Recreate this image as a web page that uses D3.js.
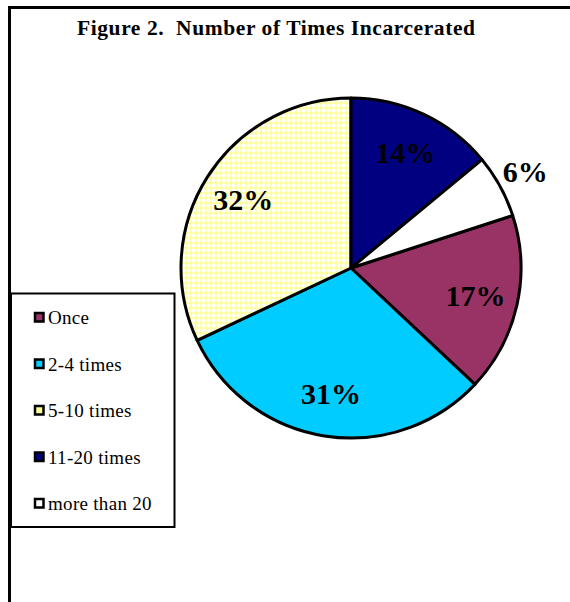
<!DOCTYPE html>
<html>
<head>
<meta charset="utf-8">
<script src="https://cdn.jsdelivr.net/npm/d3@7"></script>
<style>
  html, body { margin: 0; padding: 0; background: #fff; }
  svg { display: block; }
  text { white-space: pre; }
</style>
</head>
<body>
<svg id="chart" width="570" height="602"></svg>
<script>
const categories = ["Once", "2-4 times", "5-10 times", "11-20 times", "more than 20"];
const values = [17, 31, 32, 14, 6];
const labels = ["17%", "31%", "32%", "14%", "6%"];
const colors = ["#993366", "#00CCFF", "url(#yellowDots)", "#000080", "#FFFFFF"];
const legendColors = ["#993366", "#00CCFF", "#FFFF99", "#000080", "#FFFFFF"];

const svg = d3.select("#chart");
const defs = svg.append("defs");
const pat = defs.append("pattern").attr("id", "yellowDots")
  .attr("patternUnits", "userSpaceOnUse").attr("width", 5).attr("height", 5);
pat.append("rect").attr("width", 5).attr("height", 5).attr("fill", "#FFFF99");
pat.append("circle").attr("cx", 2.5).attr("cy", 2.5).attr("r", 2).attr("fill", "#FFFFFF");

// frame
svg.append("path").attr("d", "M9.5,602 L9.5,7.5 L570,7.5")
  .attr("fill", "none").attr("stroke", "#000").attr("stroke-width", 3);

// title
svg.append("text").attr("x", 77).attr("y", 35)
  .attr("font-family", "Liberation Serif, Times New Roman, serif")
  .attr("font-weight", "bold").attr("font-size", 21.5)
  .attr("textLength", 398).attr("lengthAdjust", "spacing")
  .text("Figure 2.  Number of Times Incarcerated");

// pie
const cx = 351, cy = 268, r = 170;
const total = d3.sum(values);
const start = (values[3] + values[4]) / total * 2 * Math.PI;
const pie = d3.pie().sort(null).startAngle(start).endAngle(start + 2 * Math.PI);
const arcs = pie(values);
const arc = d3.arc().innerRadius(0).outerRadius(r);
const g = svg.append("g").attr("transform", `translate(${cx},${cy})`);
g.selectAll("path.slice").data(arcs).enter().append("path")
  .attr("class", "slice")
  .attr("d", arc)
  .attr("fill", (d, i) => colors[i])
  .attr("stroke", "#000").attr("stroke-width", 3).attr("stroke-linejoin", "round");

const inArc = d3.arc().innerRadius(r * 0.75).outerRadius(r * 0.75);
const outArc = d3.arc().innerRadius(r * 1.17).outerRadius(r * 1.17);
g.selectAll("text.lbl").data(arcs).enter().append("text")
  .attr("class", "lbl")
  .attr("transform", d => {
    const p = (d.value < 10 ? outArc : inArc).centroid(d);
    return `translate(${p[0]},${p[1]})`;
  })
  .attr("text-anchor", "middle").attr("dy", "0.33em")
  .attr("font-family", "Liberation Serif, Times New Roman, serif")
  .attr("font-weight", "bold").attr("font-size", 30)
  .text((d, i) => labels[i]);

// legend
const lg = svg.append("g");
lg.append("rect").attr("x", 11).attr("y", 293.5).attr("width", 163.5).attr("height", 233.5)
  .attr("fill", "#fff").attr("stroke", "#000").attr("stroke-width", 2);
const ly = d3.scalePoint().domain(categories).range([318, 504]);
const items = lg.selectAll("g.item").data(categories).enter().append("g")
  .attr("class", "item").attr("transform", d => `translate(34,${ly(d)})`);
items.append("rect").attr("x", 1).attr("y", -5).attr("width", 8.5).attr("height", 8.5)
  .attr("fill", (d, i) => legendColors[i]).attr("stroke", "#000").attr("stroke-width", 2.5);
items.append("text").attr("x", 14).attr("y", 0).attr("dy", "0.33em")
  .attr("font-family", "Liberation Serif, Times New Roman, serif")
  .attr("font-size", 19).attr("letter-spacing", 0.3).text(d => d);
</script>
</body>
</html>
